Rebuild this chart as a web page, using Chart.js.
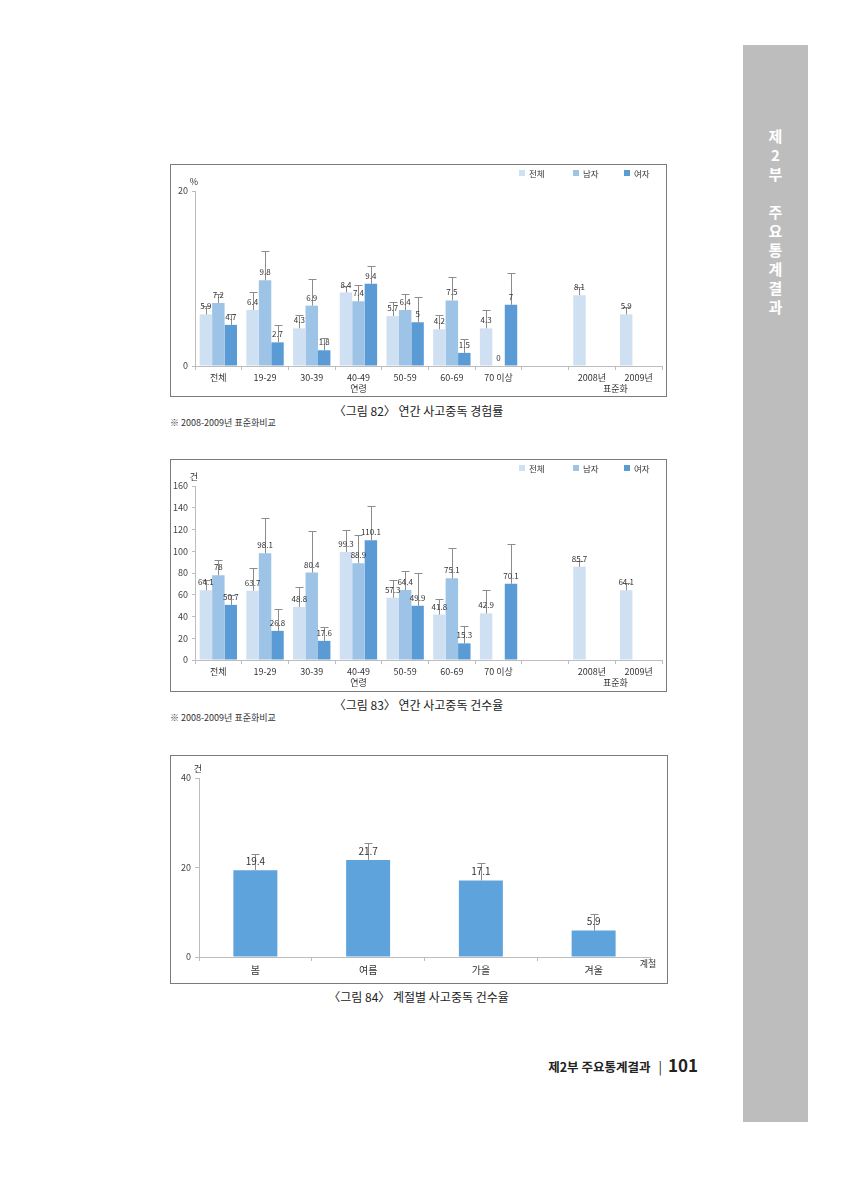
<!DOCTYPE html>
<html><head><meta charset="utf-8">
<script src="https://cdn.jsdelivr.net/npm/chart.js@4.4.1/dist/chart.umd.min.js"></script>
<style>
body{margin:0;width:847px;height:1200px;background:#fff;position:relative;overflow:hidden;font-family:"Noto Sans CJK KR","Noto Sans",sans-serif;color:#222}
.box{position:absolute;border:1px solid #7a7a7a;box-sizing:border-box;background:#fff}
.box canvas{position:absolute;left:0;top:0}
.cap{position:absolute;left:171px;width:495px;text-align:center;font-size:12px;line-height:14px;color:#222}
.note{position:absolute;left:170px;font-size:9px;line-height:11px;color:#333}
.side{position:absolute;left:743px;top:45px;width:65px;height:1077px;background:#bdbdbd}
.sidetxt{position:absolute;left:743px;width:65px;top:126px;text-align:center;color:#fff;font-weight:bold;font-size:15px;line-height:19px}
.foot{position:absolute;right:149px;top:1052px;font-weight:bold;color:#222;white-space:nowrap}
</style></head><body>
<div class="side"></div>
<div class="sidetxt">제<br>2<br>부<br>&nbsp;<br>주<br>요<br>통<br>계<br>결<br>과</div>

<div class="box" style="left:170px;top:164px;width:497px;height:233px"><canvas id="c1" width="495" height="231"></canvas></div>
<div class="cap" style="top:404px">〈그림 82〉 연간 사고중독 경험률</div>
<div class="note" style="top:417px">※ 2008-2009년 표준화비교</div>

<div class="box" style="left:170px;top:459px;width:497px;height:233px"><canvas id="c2" width="495" height="231"></canvas></div>
<div class="cap" style="top:698px">〈그림 83〉 연간 사고중독 건수율</div>
<div class="note" style="top:712px">※ 2008-2009년 표준화비교</div>

<div class="box" style="left:170px;top:755px;width:498px;height:229px"><canvas id="c3" width="496" height="227"></canvas></div>
<div class="cap" style="top:990px">〈그림 84〉 계절별 사고중독 건수율</div>

<div class="foot"><span style="font-size:12.5px">제2부 주요통계결과</span><span style="font-size:13px;font-weight:normal;margin:0 6px 0 8px">|</span><span style="font-size:17px">101</span></div>

<script>
// ---------- data ----------
const ageCats = ['전체','19-29','30-39','40-49','50-59','60-69','70 이상','','2008년','2009년'];
const groupNames = ['연령','표준화'];
const groupFrom = [0, 8];
const groupTo = [6, 9];
const seriesNames = ['전체','남자','여자'];
const seriesColors = ['#cfe0f2','#9dc3e6','#5b9bd5'];

// Fig 82: annual poisoning experience rate (%)
const expTotal  = [5.9, 6.4, 4.3, 8.4, 5.7, 4.2, 4.3, null, 8.1, 5.9];
const expMale   = [7.2, 9.8, 6.9, 7.4, 6.4, 7.5, 0, null, null, null];
const expFemale = [4.7, 2.7, 1.8, 9.4, 5, 1.5, 7, null, null, null];
const expTotalUp  = [6.9, 8.5, 5.85, 9.2, 7.3, 5.8, 6.4, null, 9.0, 6.8];
const expMaleUp   = [8.2, 13.2, 10.0, 9.3, 8.2, 10.2, null, null, null, null];
const expFemaleUp = [5.9, 4.7, 3.25, 11.45, 7.9, 3.05, 10.65, null, null, null];
const expTicks = [0, 20];

// Fig 83: annual poisoning case rate (건)
const rateTotal  = [64.1, 63.7, 48.8, 99.3, 57.3, 41.8, 42.9, null, 85.7, 64.1];
const rateMale   = [78, 98.1, 80.4, 88.9, 64.4, 75.1, null, null, null, null];
const rateFemale = [50.7, 26.8, 17.6, 110.1, 49.9, 15.3, 70.1, null, null, null];
const rateTotalUp  = [74, 84.5, 67.4, 119.8, 73.8, 56.4, 64.7, null, 91.3, 71];
const rateMaleUp   = [91.6, 131, 118.9, 114.9, 81.8, 102.6, null, null, null, null];
const rateFemaleUp = [60, 46.6, 30.6, 141.2, 79.7, 31.6, 106.9, null, null, null];
const rateTicks = [0, 20, 40, 60, 80, 100, 120, 140, 160];

// Fig 84: seasonal case rate
const seasons = ['봄','여름','가을','겨울'];
const seasonRate = [19.4, 21.7, 17.1, 5.9];
const seasonUp = [23.1, 25.4, 21.0, 9.5];
const seasonTicks = [0, 20, 40];

// ---------- helpers ----------
const FONT = '"Noto Sans CJK KR","Noto Sans",sans-serif';
Chart.defaults.font.family = FONT;
Chart.defaults.color = '#333';
Chart.defaults.devicePixelRatio = 1;

const extras = {
  id: 'extras',
  afterDatasetsDraw(chart, args, o) {
    const ctx = chart.ctx, ys = chart.scales.y, xs = chart.scales.x, ca = chart.chartArea;
    ctx.save();
    // error bars
    ctx.strokeStyle = '#8c8c8c'; ctx.lineWidth = 1;
    chart.data.datasets.forEach((ds, i) => {
      const meta = chart.getDatasetMeta(i);
      meta.data.forEach((bar, j) => {
        const v = ds.data[j], up = ds.up ? ds.up[j] : null;
        if (v == null || up == null) return;
        const x = Math.round(bar.x) + 0.5, y0 = ys.getPixelForValue(v), y1 = Math.round(ys.getPixelForValue(up)) + 0.5;
        ctx.beginPath(); ctx.moveTo(x, y0); ctx.lineTo(x, y1);
        ctx.moveTo(x - o.cap, y1); ctx.lineTo(x + o.cap, y1); ctx.stroke();
      });
    });
    // value labels
    ctx.fillStyle = '#333'; ctx.font = o.labelSize + 'px ' + FONT;
    ctx.textAlign = 'center'; ctx.textBaseline = 'bottom';
    chart.data.datasets.forEach((ds, i) => {
      const meta = chart.getDatasetMeta(i);
      meta.data.forEach((bar, j) => {
        const v = ds.data[j];
        if (v == null) return;
        ctx.fillText(String(v), bar.x, ys.getPixelForValue(v) - 4);
      });
    });
    // unit label
    ctx.font = '9px ' + FONT; ctx.textAlign = 'center'; ctx.textBaseline = 'middle';
    if (o.unit) ctx.fillText(o.unit, ca.left - 1, ca.top - 9);
    if (o.xTitle) ctx.fillText(o.xTitle, ca.right - 2, ca.bottom + 7);
    // group labels
    if (o.groups) {
      ctx.font = '9px ' + FONT;
      o.groups.names.forEach((n, k) => {
        const x = (xs.getPixelForValue(o.groups.from[k]) + xs.getPixelForValue(o.groups.to[k])) / 2;
        ctx.fillText(n, x, ca.bottom + 23);
      });
    }
    // legend
    if (o.legendX) {
      ctx.font = '8.5px ' + FONT; ctx.textAlign = 'left';
      chart.data.datasets.forEach((ds, i) => {
        ctx.fillStyle = ds.backgroundColor;
        ctx.fillRect(o.legendX[i], 5, 6, 6);
        ctx.fillStyle = '#333';
        ctx.fillText(ds.label, o.legendX[i] + 10, 8.5);
      });
    }
    ctx.restore();
  }
};

function groupedChart(id, vals, ups, ticks, unit, yWidth, xHeight) {
  return new Chart(document.getElementById(id), {
    type: 'bar',
    data: {
      labels: ageCats,
      datasets: vals.map((d, i) => ({
        label: seriesNames[i], data: d, up: ups[i], backgroundColor: seriesColors[i],
        borderWidth: 0, categoryPercentage: 0.8, barPercentage: 1.0
      }))
    },
    options: {
      responsive: false, animation: false,
      layout: { padding: { top: 26, left: 0, right: 4, bottom: 0 } },
      plugins: {
        legend: { display: false }, tooltip: { enabled: false },
        extras: { cap: 4, labelSize: 8, unit: unit, groups: { names: groupNames, from: groupFrom, to: groupTo }, legendX: [348, 402, 453] }
      },
      scales: {
        x: {
          grid: { display: true, offset: true, drawOnChartArea: false, drawTicks: true, tickLength: 4, color: '#bdbdbd' },
          border: { display: true, color: '#bdbdbd' },
          ticks: { font: { size: 9 }, color: '#333', padding: 2, maxRotation: 0, autoSkip: false },
          afterFit(s) { s.height = xHeight; }
        },
        y: {
          min: 0, max: ticks[ticks.length - 1],
          afterBuildTicks(s) { s.ticks = ticks.map(v => ({ value: v })); },
          grid: { display: true, drawOnChartArea: false, drawTicks: true, tickLength: 3, color: '#bdbdbd' },
          border: { display: true, color: '#bdbdbd' },
          ticks: { font: { size: 9 }, color: '#444', padding: 4 },
          afterFit(s) { s.width = yWidth; }
        }
      }
    },
    plugins: [extras]
  });
}

groupedChart('c1', [expTotal, expMale, expFemale], [expTotalUp, expMaleUp, expFemaleUp], expTicks, '%', 24, 30);
groupedChart('c2', [rateTotal, rateMale, rateFemale], [rateTotalUp, rateMaleUp, rateFemaleUp], rateTicks, '건', 24, 31);

new Chart(document.getElementById('c3'), {
  type: 'bar',
  data: {
    labels: seasons,
    datasets: [{ label: '건수율', data: seasonRate, up: seasonUp, backgroundColor: '#5ea3db', borderWidth: 0, categoryPercentage: 1.0, barPercentage: 0.39 }]
  },
  options: {
    responsive: false, animation: false,
    layout: { padding: { top: 22, left: 0, right: 17, bottom: 0 } },
    plugins: {
      legend: { display: false }, tooltip: { enabled: false },
      extras: { cap: 4, labelSize: 10, unit: '건', xTitle: '계절' }
    },
    scales: {
      x: {
        grid: { display: true, offset: true, drawOnChartArea: false, drawTicks: true, tickLength: 4, color: '#bdbdbd' },
        border: { display: true, color: '#bdbdbd' },
        ticks: { font: { size: 10 }, color: '#333', padding: 3, maxRotation: 0 },
        afterFit(s) { s.height = 26; }
      },
      y: {
        min: 0, max: seasonTicks[seasonTicks.length - 1],
        afterBuildTicks(s) { s.ticks = seasonTicks.map(v => ({ value: v })); },
        grid: { display: true, drawOnChartArea: false, drawTicks: true, tickLength: 4, color: '#bdbdbd' },
        border: { display: true, color: '#bdbdbd' },
        ticks: { font: { size: 9 }, color: '#444', padding: 4 },
        afterFit(s) { s.width = 28; }
      }
    }
  },
  plugins: [extras]
});
</script>
</body></html>
